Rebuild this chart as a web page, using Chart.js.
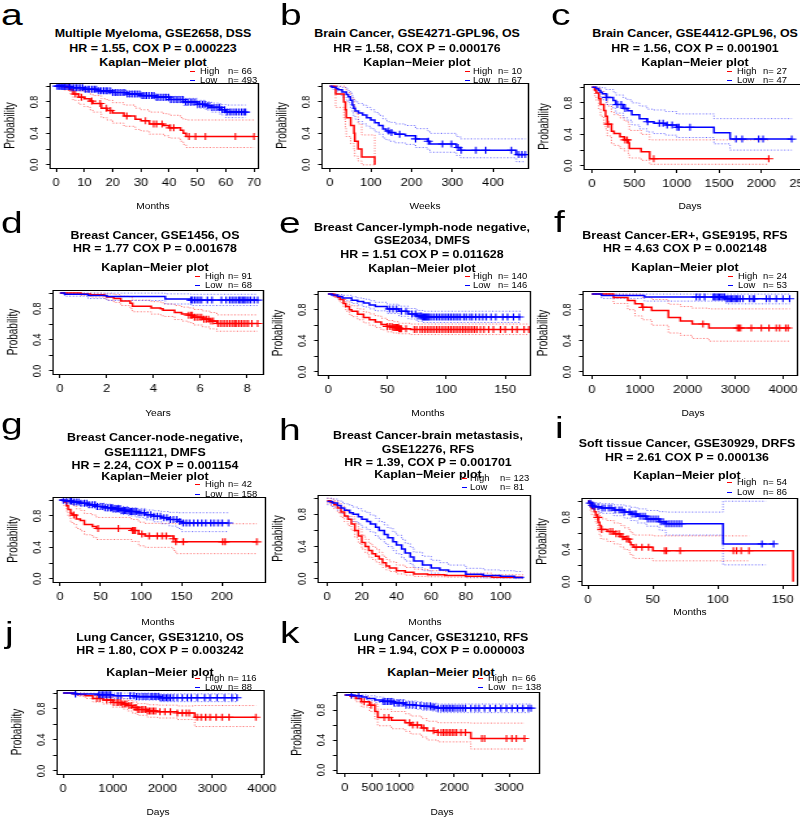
<!DOCTYPE html>
<html>
<head>
<meta charset="utf-8">
<script src="https://cdn.jsdelivr.net/npm/chart.js@4.4.1/dist/chart.umd.min.js"></script>
<style>
  html, body { margin: 0; padding: 0; background: #fff; }
  body { width: 800px; height: 819px; position: relative; overflow: hidden;
         font-family: "Liberation Sans", Arial, Helvetica, sans-serif; color: #000; }
  .c  { position: absolute; white-space: nowrap; line-height: 1; z-index: 2; }
  .l  { position: absolute; white-space: nowrap; line-height: 1; z-index: 2; transform-origin: 0 50%; }
  .ttl { font-weight: bold; font-size: 10.8px; transform: translate(-50%, -50%) scaleX(1.15); }
  .lg  { font-size: 8.6px; transform: translateY(-50%) scaleX(1.1); }
  .ax  { font-size: 8.5px; transform: translate(-50%, -50%) scaleX(1.2); }
  .let { position: absolute; font-size: 30px; line-height: 1; z-index: 2; transform-origin: 0 0; transform: scaleX(1.3); }
  .dash { position: absolute; width: 5px; height: 1px; z-index: 2; }
  canvas { position: absolute; }
</style>
</head>
<body>
<script>
// ---------- shared axis data ----------
var Y_TICKS = [0, 0.2, 0.4, 0.6, 0.8, 1];
var Y_TICK_LABELS = ["0.0", "", "0.4", "", "0.8", ""];

var N_HIGH = [66, 10, 27, 91, 140, 24, 42, 123, 54, 116, 66];
var N_LOW  = [493, 67, 47, 68, 146, 53, 158, 81, 86, 88, 138];

var A_XTICKS = [0, 10, 20, 30, 40, 50, 60, 70];
var B_XTICKS = [0, 100, 200, 300, 400];
var C_XTICKS = [0, 500, 1000, 1500, 2000, 2500];
var D_XTICKS = [0, 2, 4, 6, 8];
var E_XTICKS = [0, 50, 100, 150];
var F_XTICKS = [0, 1000, 2000, 3000, 4000];
var G_XTICKS = [0, 50, 100, 150, 200];
var H_XTICKS = [0, 20, 40, 60, 80, 100];
var I_XTICKS = [0, 50, 100, 150];
var J_XTICKS = [0, 1000, 2000, 3000, 4000];
var K_XTICKS = [0, 500, 1000, 1500, 2000, 2500, 3000];
var K_XTICK_LABELS = ["0", "500", "1000", "", "2000", "", "3000"];

// ---------- survival curves: [time, survival, lower CI, upper CI] ----------
var aHigh = [[0,1,1,1],[3,0.985,0.95,1],[5,0.955,0.9,0.99],[6,0.9,0.82,0.96],[8,0.86,0.77,0.94],[10,0.84,0.74,0.93],
  [12,0.81,0.7,0.9],[13,0.78,0.67,0.88],[16,0.72,0.6,0.84],[18,0.69,0.57,0.82],[20,0.66,0.53,0.79],[24,0.62,0.49,0.76],
  [28,0.58,0.45,0.72],[30,0.56,0.43,0.7],[33,0.52,0.39,0.67],[38,0.5,0.37,0.65],[40,0.47,0.34,0.63],[44,0.44,0.3,0.6],
  [45,0.4,0.26,0.58],[46,0.36,0.22,0.57],[70,0.36,0.22,0.57]];
var aHighCens = [4.6,6.8,9,12.6,15.6,17.8,19.2,25,31.6,34.5,35.5,37.5,40.4,41.6,47,49.3,52.8,63.4,70];
var aLow = [[0,1,1,1],[2,0.995,0.985,1],[5,0.98,0.965,0.995],[10,0.96,0.94,0.98],[15,0.94,0.915,0.965],[20,0.92,0.89,0.945],
  [25,0.9,0.87,0.93],[30,0.88,0.845,0.91],[35,0.86,0.82,0.895],[40,0.83,0.79,0.87],[45,0.8,0.755,0.845],[50,0.77,0.72,0.82],
  [53,0.75,0.695,0.8],[55,0.73,0.67,0.785],[58,0.7,0.635,0.765],[60,0.67,0.6,0.76],[67,0.67,0.6,0.76]];
var aLowCens = [0.4,0.9,1.3,1.8,2.2,2.7,3.1,3.6,4.2,4.8,5.5,6.3,7.1,7.8,8.6,9.4,10.3,11.1,11.8,12.7,13.5,14.2,15.1,15.9,
  16.8,17.6,18.3,19.2,20.1,21,21.7,22.6,23.5,24.3,25.2,26.1,27,27.8,28.6,29.5,30.4,31.2,32,32.9,33.8,34.6,35.5,36.3,37.2,
  38.1,38.9,39.8,40.6,41.5,42.4,43.2,44.1,44.9,45.8,46.6,47.5,48.3,49.2,50.1,50.9,51.8,52.6,53.5,54.3,55.2,56.1,57,57.8,
  58.7,59.6,60.4,61.3,62.1,63,63.8,64.7,65.6,66.4,67];

var bHigh = [[0,1,1,1],[14,0.9,0.73,1],[34,0.8,0.58,1],[38,0.7,0.46,0.98],[40,0.6,0.36,0.92],[51,0.5,0.27,0.85],
  [59,0.4,0.18,0.75],[61,0.3,0.11,0.66],[69,0.2,0.05,0.52],[78,0.1,0,0.38],[110,0,0,0]];
var bHighCens = [];
var bLow = [[0,1,1,1],[5,0.985,0.96,1],[15,0.97,0.93,1],[20,0.955,0.9,0.995],[30,0.925,0.86,0.985],[40,0.895,0.82,0.965],
  [45,0.865,0.79,0.945],[50,0.82,0.73,0.91],[55,0.76,0.66,0.86],[58,0.72,0.62,0.83],[62,0.685,0.58,0.8],[70,0.66,0.55,0.78],
  [80,0.635,0.52,0.76],[90,0.6,0.49,0.73],[100,0.57,0.46,0.7],[110,0.535,0.42,0.665],[120,0.5,0.39,0.63],[130,0.455,0.34,0.585],
  [138,0.43,0.32,0.56],[145,0.41,0.3,0.54],[160,0.39,0.28,0.52],[185,0.37,0.26,0.5],[210,0.33,0.22,0.46],[240,0.3,0.19,0.43],
  [245,0.265,0.16,0.4],[310,0.22,0.12,0.36],[320,0.185,0.09,0.33],[457,0.13,0.04,0.33],[480,0.13,0.04,0.33]];
var bLowCens = [144,151,171,210,241,276,298,314,322,358,382,445,463,471,479];

var cHigh = [[0,1,1,1],[30,0.963,0.89,1],[50,0.926,0.83,1],[80,0.852,0.72,0.98],[100,0.778,0.63,0.95],[140,0.704,0.55,0.9],
  [160,0.63,0.47,0.84],[180,0.53,0.38,0.76],[230,0.44,0.28,0.68],[260,0.41,0.26,0.65],[330,0.37,0.22,0.61],[380,0.33,0.19,0.57],
  [430,0.29,0.15,0.53],[440,0.22,0.1,0.45],[580,0.18,0.07,0.4],[680,0.09,0.02,0.33],[2090,0.09,0.02,0.33]];
var cHighCens = [190,390,415,728,2087];
var cLow = [[0,1,1,1],[50,0.979,0.94,1],[80,0.957,0.9,1],[100,0.936,0.87,1],[120,0.915,0.84,0.99],[170,0.87,0.78,0.97],
  [250,0.83,0.73,0.94],[280,0.78,0.67,0.9],[370,0.73,0.61,0.86],[420,0.7,0.58,0.84],[470,0.65,0.52,0.8],[560,0.6,0.47,0.76],
  [650,0.56,0.43,0.72],[730,0.54,0.41,0.71],[870,0.52,0.39,0.69],[1000,0.49,0.36,0.66],[1440,0.42,0.28,0.6],
  [1630,0.34,0.2,0.6],[2360,0.34,0.2,0.6]];
var cLowCens = [171,298,345,390,656,795,839,887,946,1006,1026,1157,1700,1773,1968,2020,2358];

var dHigh = [[0,1,1,1],[0.9,0.99,0.97,1],[1.3,0.98,0.95,1],[1.9,0.965,0.93,0.995],[2,0.95,0.91,0.99],[2.3,0.93,0.88,0.98],
  [2.6,0.9,0.84,0.96],[3,0.87,0.8,0.94],[3.1,0.83,0.76,0.91],[3.9,0.81,0.73,0.89],[4.3,0.8,0.72,0.88],[4.4,0.78,0.7,0.86],
  [4.9,0.75,0.66,0.84],[5.2,0.73,0.64,0.82],[5.5,0.715,0.62,0.81],[5.7,0.69,0.59,0.79],[6.1,0.665,0.565,0.77],
  [6.4,0.64,0.54,0.75],[6.7,0.61,0.51,0.72],[8.45,0.61,0.51,0.72]];
var dHighCens = [5.5,5.6,5.65,5.75,5.85,5.95,6.05,6.15,6.25,6.35,6.45,6.55,6.75,6.85,6.95,7.05,7.15,7.25,7.35,7.45,7.5,
  7.55,7.65,7.75,7.85,7.95,8.05,8.2,8.45];
var dLow = [[0,1,1,1],[0.2,0.985,0.96,1],[1.2,0.97,0.93,1],[2,0.955,0.905,1],[4.5,0.925,0.86,0.99],[5.6,0.91,0.84,0.985],
  [8.45,0.91,0.84,0.985]];
var dLowCens = [5.6,5.65,5.75,5.85,5.95,6.05,6.3,6.5,6.9,7.1,7.25,7.35,7.45,7.55,7.65,7.72,7.8,7.88,7.95,8.05,8.15,8.3,8.45];

var eHigh = [[0,1,1,1],[5,0.98,0.96,1],[8,0.96,0.93,0.99],[10,0.93,0.89,0.97],[13,0.88,0.83,0.93],[15,0.84,0.78,0.9],
  [18,0.8,0.74,0.86],[20,0.78,0.71,0.85],[25,0.74,0.67,0.81],[30,0.7,0.63,0.77],[35,0.67,0.6,0.745],[40,0.64,0.57,0.72],
  [45,0.61,0.54,0.69],[50,0.585,0.515,0.66],[55,0.57,0.5,0.645],[60,0.555,0.49,0.625],[70,0.545,0.48,0.615],[170,0.545,0.48,0.615]];
var eHighCens = [50,52,54,55,56,57,57.5,58,58.5,59,59.5,60,61,62,66,73,75,78,80,82,84,86,88,90,92,94,96,98,100,102,104,
  106,108,110,112,114,116,118,120,122,124,126,129,132,136,140,146,150,156,160,166,170];
var eLow = [[0,1,1,1],[3,0.99,0.975,1],[8,0.97,0.945,0.995],[12,0.95,0.915,0.985],[20,0.92,0.88,0.965],[25,0.905,0.86,0.95],
  [30,0.885,0.835,0.935],[35,0.86,0.81,0.915],[40,0.84,0.785,0.895],[50,0.81,0.75,0.87],[60,0.78,0.715,0.845],
  [68,0.745,0.68,0.815],[75,0.72,0.65,0.79],[80,0.705,0.635,0.78],[163,0.705,0.635,0.78]];
var eLowCens = [52,55,58,62,66,71,74,76,78,79,80,81,82,83,84,85,86,88,90,92,94,96,98,100,102,104,106,108,110,112,115,
  117,120,122,125,128,131,134,138,142,148,152,157,162];

var fHigh = [[0,1,1,1],[450,0.958,0.88,1],[750,0.917,0.8,1],[900,0.875,0.72,1],[1050,0.83,0.67,0.96],[1250,0.79,0.6,0.93],
  [1600,0.7,0.5,0.87],[1850,0.655,0.47,0.84],[2100,0.615,0.43,0.82],[2450,0.565,0.395,0.81],[4140,0.565,0.395,0.81]];
var fHighCens = [1068,2324,3043,3078,3113,3336,3545,3706,3859,3929,4055,4104];
var fLow = [[0,1,1,1],[200,0.981,0.945,1],[1100,0.962,0.91,1],[2810,0.94,0.875,1],[4140,0.94,0.875,1]];
var fLowCens = [2184,2254,2359,2540,2568,2600,2638,2670,2708,2740,2777,2820,2847,2880,2917,2950,2987,3020,3057,3100,
  3161,3301,3371,3400,3650,3720,3859,3999,4138];

var gHigh = [[0,1,1,1],[5,0.976,0.93,1],[8,0.93,0.86,1],[10,0.88,0.79,0.98],[13,0.835,0.73,0.95],[15,0.81,0.7,0.93],
  [20,0.76,0.64,0.89],[25,0.74,0.61,0.87],[30,0.69,0.56,0.83],[40,0.665,0.53,0.81],[45,0.64,0.5,0.78],[88,0.615,0.475,0.755],
  [97,0.57,0.42,0.72],[105,0.545,0.4,0.705],[140,0.51,0.36,0.7],[143,0.47,0.32,0.7],[243,0.47,0.32,0.7]];
var gHighCens = [17,47,72,89.5,91.5,93,101,110,120,126,131,140,143,152,201,204,243];
var gLow = [[0,1,1,1],[5,0.99,0.975,1],[15,0.975,0.95,1],[25,0.96,0.93,0.99],[35,0.94,0.905,0.975],[45,0.92,0.88,0.96],
  [55,0.905,0.86,0.95],[65,0.89,0.845,0.935],[75,0.87,0.82,0.92],[85,0.855,0.8,0.905],[95,0.84,0.78,0.895],
  [105,0.815,0.75,0.875],[115,0.795,0.725,0.865],[125,0.775,0.7,0.855],[135,0.755,0.67,0.845],[145,0.73,0.64,0.84],
  [150,0.71,0.6,0.84],[208,0.71,0.6,0.84]];
var gLowCens = [4,8,12,14,17,20,23,26,30,33,36,40,43,46,50,53,56,59,62,64,66,68,70,72,74,76,78,80,82,84,86,88,90,92,94,
  97,100,104,108,112,116,120,124,128,132,136,140,144,148,152,156,160,165,170,175,180,186,190,195,200,208];

var hHigh = [[0,0.97,0.94,1],[2,0.95,0.91,0.99],[4,0.92,0.87,0.97],[6,0.88,0.82,0.94],[8,0.83,0.76,0.9],[10,0.78,0.71,0.86],
  [12,0.74,0.66,0.82],[14,0.68,0.6,0.77],[16,0.6,0.51,0.69],[18,0.53,0.44,0.62],[20,0.45,0.37,0.54],[22,0.4,0.32,0.49],
  [24,0.35,0.27,0.44],[26,0.31,0.24,0.4],[28,0.28,0.21,0.37],[30,0.245,0.18,0.33],[32,0.2,0.14,0.28],[34,0.16,0.11,0.24],
  [36,0.135,0.09,0.21],[40,0.1,0.06,0.17],[45,0.08,0.045,0.14],[50,0.06,0.03,0.12],[58,0.05,0.025,0.1],[68,0.04,0.02,0.09],
  [80,0.03,0.012,0.07],[95,0.02,0.008,0.05],[113,0.02,0.008,0.05]];
var hHighCens = [];
var hLow = [[0,0.96,0.92,1],[3,0.94,0.89,0.99],[6,0.91,0.85,0.97],[8,0.88,0.81,0.95],[10,0.85,0.77,0.93],[13,0.82,0.74,0.91],
  [15,0.8,0.71,0.89],[18,0.77,0.68,0.87],[20,0.74,0.64,0.84],[23,0.71,0.61,0.82],[25,0.68,0.58,0.79],[28,0.64,0.53,0.75],
  [30,0.6,0.49,0.71],[33,0.55,0.44,0.67],[35,0.51,0.4,0.63],[38,0.46,0.35,0.58],[40,0.42,0.31,0.54],[43,0.37,0.26,0.49],
  [45,0.32,0.22,0.44],[48,0.27,0.18,0.39],[50,0.22,0.14,0.33],[55,0.17,0.1,0.28],[60,0.135,0.07,0.23],[65,0.11,0.055,0.2],
  [70,0.09,0.04,0.17],[80,0.055,0.02,0.13],[90,0.04,0.012,0.11],[100,0.03,0.008,0.1],[108,0.015,0.002,0.09],[113,0.01,0,0.09]];
var hLowCens = [];

var iHigh = [[0,1,1,1],[1,0.98,0.94,1],[2,0.945,0.88,1],[3,0.91,0.83,0.98],[5,0.87,0.78,0.95],[6,0.83,0.73,0.92],
  [7,0.8,0.7,0.9],[8,0.74,0.63,0.85],[9,0.7,0.58,0.82],[10,0.65,0.53,0.78],[15,0.625,0.5,0.76],[20,0.595,0.47,0.73],
  [25,0.56,0.43,0.7],[28,0.53,0.4,0.67],[32,0.49,0.36,0.63],[33,0.46,0.33,0.61],[35,0.43,0.29,0.58],[50,0.385,0.26,0.57],
  [124,0.385,0.26,0.57],[158,0,null,null]];
var iHighCens = [7.7,10.7,17,19,21.7,24,26.8,29.8,31,37,41.6,46.7,59,60.5,71,112,114.5,118,124];
var iLow = [[0,1,1,1],[1,0.988,0.96,1],[2,0.976,0.94,1],[3,0.95,0.9,0.99],[5,0.93,0.87,0.98],[10,0.915,0.85,0.97],
  [20,0.89,0.82,0.955],[28,0.865,0.79,0.94],[33,0.84,0.76,0.925],[38,0.815,0.73,0.905],[45,0.78,0.69,0.885],
  [55,0.745,0.64,0.87],[60,0.72,0.58,0.865],[104,0.47,0.21,1],[137,0.47,0.21,1],[143,0.47,null,null]];
var iLowCens = [2,3.5,5,8,11,13,16,18,21,24,26,28,32,34,36,37,40,42,44,46,48,50,52,54,56,58,60,62,64,66,68,70,72,134,143];

var jHigh = [[0,1,1,1],[200,0.991,0.975,1],[300,0.982,0.96,1],[450,0.965,0.93,0.995],[600,0.93,0.885,0.975],
  [800,0.91,0.86,0.96],[1000,0.88,0.82,0.94],[1200,0.86,0.795,0.925],[1300,0.84,0.77,0.905],[1400,0.815,0.74,0.885],
  [1500,0.79,0.715,0.865],[1700,0.77,0.69,0.85],[1900,0.76,0.68,0.845],[2300,0.745,0.66,0.835],[2650,0.69,0.57,0.84],
  [3880,0.69,0.57,0.84]];
var jHighCens = [680,740,880,960,1020,1080,1120,1160,1200,1240,1280,1330,1380,1440,1470,1500,1540,1580,1620,1660,1700,
  1740,1780,1820,1860,1950,2050,2160,2300,2400,2480,2540,2700,2780,2870,2960,3080,3200,3340,3880];
var jLow = [[0,1,1,1],[250,0.99,0.97,1],[700,0.978,0.95,1],[1000,0.966,0.93,1],[1450,0.955,0.91,1],[1950,0.94,0.89,0.99],
  [3500,0.94,0.89,0.99]];
var jLowCens = [250,720,760,800,840,880,920,960,1100,1160,1350,1420,1480,1540,1600,1650,1700,1760,1800,1840,1880,1920,
  1960,2000,2040,2080,2120,2160,2220,2300,2400,2500,2580,2700,2850,2960,3100,3250,3400,3500];

var kHigh = [[0,1,1,1],[100,0.985,0.955,1],[200,0.955,0.91,1],[300,0.91,0.84,0.98],[450,0.865,0.78,0.95],[550,0.78,0.68,0.88],
  [600,0.7,0.59,0.81],[850,0.665,0.55,0.78],[1100,0.63,0.515,0.75],[1200,0.6,0.48,0.72],[1400,0.56,0.44,0.685],
  [1500,0.525,0.4,0.65],[1700,0.5,0.375,0.63],[2300,0.42,0.28,0.625],[3280,0.42,0.28,0.625]];
var kHighCens = [350,480,720,800,1180,1240,1320,1440,1620,1700,1760,1800,1840,1880,1920,1960,2000,2040,2120,2200,2500,
  2550,2950,3050,3130,3280];
var kLow = [[0,1,1,1],[150,0.99,0.975,1],[300,0.975,0.95,1],[400,0.955,0.925,0.99],[550,0.935,0.9,0.975],[700,0.915,0.875,0.955],
  [900,0.895,0.85,0.94],[1100,0.87,0.82,0.92],[1300,0.86,0.81,0.91],[1400,0.85,0.795,0.9],[1600,0.84,0.785,0.89],
  [1700,0.825,0.765,0.88],[3400,0.825,0.765,0.88]];
var kLowCens = [120,250,700,740,780,820,860,900,960,1000,1060,1120,1180,1240,1300,1380,1450,1500,1560,1600,1640,1700,
  1760,1800,1840,1880,1920,1960,2000,2050,2100,2150,2200,2300,2380,2450,2550,2650,2750,2850,2950,3050,3150,3250,3350,3400];

// ---------- panel layout (page px) ----------
var SX = 1.3;                         // the source figure is stretched horizontally
var FONT = '"Liberation Sans", Arial, Helvetica, sans-serif';
var RED = "#ff0000", BLUE = "#0000ff";
var RED_CI = "rgba(255,0,0,0.6)", BLUE_CI = "rgba(0,0,255,0.6)";

var PANELS = [
  { letter: "a", lpos: [1, 0], box: [50, 83, 257, 168], x: [-2.1, 71.4], ticks: A_XTICKS, hi: aHigh, hiC: aHighCens, lo: aLow, loC: aLowCens,
    title: ["Multiple Myeloma, GSE2658, DSS", "HR = 1.55, COX P = 0.000223", "Kaplan\u2212Meier plot"], tx: 153, ty: [33, 47.5, 62],
    lg: [190, 200, 228, 71, 80], xlab: "Months", xl: [153, 206] },
  { letter: "b", lpos: [280, 0], box: [322, 83, 528, 168], x: [-19.6, 486], ticks: B_XTICKS, hi: bHigh, hiC: bHighCens, lo: bLow, loC: bLowCens,
    title: ["Brain Cancer, GSE4271-GPL96, OS", "HR = 1.58, COX P = 0.000176", "Kaplan\u2212Meier plot"], tx: 417, ty: [33, 47.5, 62],
    lg: [465, 473, 498, 71, 80], xlab: "Weeks", xl: [425, 206] },
  { letter: "c", lpos: [551, 0], box: [584, 84, 814, 169], x: [-94, 2621], ticks: C_XTICKS, hi: cHigh, hiC: cHighCens, lo: cLow, loC: cLowCens,
    title: ["Brain Cancer, GSE4412-GPL96, OS", "HR = 1.56, COX P = 0.001901", "Kaplan\u2212Meier plot"], tx: 695, ty: [33, 47.5, 62],
    lg: [727, 737, 763, 71, 80], xlab: "Days", xl: [690, 206] },
  { letter: "d", lpos: [1, 208], box: [53, 290, 263, 374], x: [-0.3, 8.68], ticks: D_XTICKS, hi: dHigh, hiC: dHighCens, lo: dLow, loC: dLowCens,
    title: ["Breast Cancer, GSE1456, OS", "HR = 1.77 COX P = 0.001678", "Kaplan\u2212Meier plot"], tx: 155, ty: [235, 248, 267],
    lg: [195, 205, 228, 276, 285], xlab: "Years", xl: [158, 413] },
  { letter: "e", lpos: [279, 208], box: [318, 291, 530, 375], x: [-8.5, 171], ticks: E_XTICKS, hi: eHigh, hiC: eHighCens, lo: eLow, loC: eLowCens,
    title: ["Breast Cancer-lymph-node negative,", "GSE2034, DMFS", "HR = 1.51 COX P = 0.011628", "Kaplan\u2212Meier plot"], tx: 422, ty: [227, 240, 254, 268],
    lg: [465, 473, 498, 276, 285], xlab: "Months", xl: [428, 413] },
  { letter: "f", lpos: [554, 207], box: [583, 291, 797, 375], x: [-188, 4293], ticks: F_XTICKS, hi: fHigh, hiC: fHighCens, lo: fLow, loC: fLowCens,
    title: ["Breast Cancer-ER+, GSE9195, RFS", "HR = 4.63 COX P = 0.002148", "Kaplan\u2212Meier plot"], tx: 685, ty: [235, 248, 267],
    lg: [728, 738, 763, 276, 285], xlab: "Days", xl: [693, 413] },
  { letter: "g", lpos: [1, 409], box: [53, 497, 265, 582], x: [-8.6, 253], ticks: G_XTICKS, hi: gHigh, hiC: gHighCens, lo: gLow, loC: gLowCens,
    title: ["Breast Cancer-node-negative,", "GSE11121, DMFS", "HR = 2.24, COX P = 0.001154", "Kaplan\u2212Meier plot"], tx: 155, ty: [437, 452, 465, 476],
    lg: [195, 205, 228, 484, 494], xlab: "Months", xl: [158, 622] },
  { letter: "h", lpos: [279, 415], box: [318, 495, 530, 582], x: [-5.2, 117], ticks: H_XTICKS, hi: hHigh, hiC: hHighCens, lo: hLow, loC: hLowCens,
    title: ["Breast Cancer-brain metastasis,", "GSE12276, RFS", "HR = 1.39, COX P = 0.001701", "Kaplan\u2212Meier plot"], tx: 428, ty: [435, 449, 462, 474],
    lg: [462, 470, 500, 478, 487], xlab: "Months", xl: [425, 622] },
  { letter: "i", lpos: [555, 413], box: [582, 498, 797, 585], x: [-4.6, 161], ticks: I_XTICKS, hi: iHigh, hiC: iHighCens, lo: iLow, loC: iLowCens,
    title: ["Soft tissue Cancer, GSE30929, DRFS", "HR = 2.61 COX P = 0.000136", "Kaplan\u2212Meier plot"], tx: 687, ty: [443, 457, 475],
    lg: [727, 737, 763, 482, 492], xlab: "Months", xl: [690, 612] },
  { letter: "j", lpos: [5, 618], box: [57, 690, 265, 774], x: [-120, 4040], ticks: J_XTICKS, hi: jHigh, hiC: jHighCens, lo: jLow, loC: jLowCens,
    title: ["Lung Cancer, GSE31210, OS", "HR = 1.80, COX P = 0.003242", "Kaplan\u2212Meier plot"], tx: 160, ty: [637, 650, 672],
    lg: [195, 205, 228, 678, 687], xlab: "Days", xl: [158, 812] },
  { letter: "k", lpos: [280, 618], box: [337, 692, 540, 773], x: [-145, 3545], ticks: K_XTICKS, tickLabels: K_XTICK_LABELS,
    hi: kHigh, hiC: kHighCens, lo: kLow, loC: kLowCens,
    title: ["Lung Cancer, GSE31210, RFS", "HR = 1.94, COX P = 0.000003", "Kaplan\u2212Meier plot"], tx: 441, ty: [637, 650, 672],
    lg: [478, 488, 512, 678, 687], xlab: "Days", xl: [442, 812] }
];

// ---------- helpers ----------
function survAt(rows, t) {
  var s = rows[0][1];
  for (var i = 0; i < rows.length; i++) if (rows[i][0] <= t) s = rows[i][1];
  return s;
}

function stepSet(rows, col, color, dotted, order) {
  return {
    data: rows.map(function (r) { return { x: r[0], y: r[col] == null ? null : r[col] }; }),
    borderColor: color, borderWidth: dotted ? 1 : 1.5, borderDash: dotted ? [1, 1.6] : [],
    stepped: true, pointRadius: 0, fill: false, spanGaps: false, order: order
  };
}

function censorSet(rows, times, color, order) {
  return {
    data: times.map(function (t) { return { x: t, y: survAt(rows, t) }; }),
    showLine: false, pointStyle: "cross", pointRadius: 3.5, pointBorderWidth: 1.1,
    borderColor: color, backgroundColor: color, order: order
  };
}

// R-style box round the plot region
var boxPlugin = {
  id: "rbox",
  afterDatasetsDraw: function (chart) {
    var a = chart.chartArea, ctx = chart.ctx;
    ctx.save();
    ctx.strokeStyle = "#000";
    ctx.lineWidth = 1;
    ctx.strokeRect(Math.round(a.left) + 0.5, Math.round(a.top) + 0.5,
      Math.round(a.right - a.left), Math.round(a.bottom - a.top));
    ctx.restore();
  }
};

function addText(cls, text, x, y) {
  var d = document.createElement("div");
  d.className = cls;
  d.textContent = text;
  d.style.left = x + "px";
  d.style.top = y + "px";
  document.body.appendChild(d);
  return d;
}

function drawPanel(p, k) {
  var l = p.box[0], t = p.box[1], r = p.box[2], b = p.box[3];
  var cw = Math.round(((r - l) + 50 + 18) / SX);
  var ch = (b - t) + 10 + 46;
  var cv = document.createElement("canvas");
  cv.width = cw;
  cv.height = ch;
  cv.style.left = (l - 50) + "px";
  cv.style.top = (t - 10) + "px";
  cv.style.width = (cw * SX) + "px";
  cv.style.height = ch + "px";
  document.body.appendChild(cv);

  var xLabels = p.tickLabels || p.ticks.map(String);

  new Chart(cv.getContext("2d"), {
    type: "line",
    data: {
      datasets: [
        stepSet(p.hi, 2, RED_CI, true, 6), stepSet(p.hi, 3, RED_CI, true, 6),
        stepSet(p.lo, 2, BLUE_CI, true, 5), stepSet(p.lo, 3, BLUE_CI, true, 5),
        stepSet(p.hi, 1, RED, false, 3), stepSet(p.lo, 1, BLUE, false, 2),
        censorSet(p.hi, p.hiC, RED, 1), censorSet(p.lo, p.loC, BLUE, 0)
      ]
    },
    options: {
      responsive: false, animation: false, events: [],
      layout: { padding: { left: 2 / SX, top: 10, right: 18 / SX, bottom: 0 } },
      plugins: { legend: { display: false }, tooltip: { enabled: false }, title: { display: false } },
      scales: {
        x: {
          type: "linear", min: p.x[0], max: p.x[1],
          afterBuildTicks: function (s) { s.ticks = p.ticks.map(function (v) { return { value: v }; }); },
          afterFit: function (s) { s.height = 46; },
          grid: { drawOnChartArea: false, drawTicks: true, tickLength: 4, tickColor: "#000" },
          border: { display: true, color: "#000" },
          ticks: {
            color: "#000", font: { family: FONT, size: 10 }, padding: 5,
            autoSkip: false, minRotation: 0, maxRotation: 0,
            callback: function (v, i) { return xLabels[i]; }
          }
        },
        y: {
          type: "linear", min: -0.04, max: 1.04,
          afterBuildTicks: function (s) { s.ticks = Y_TICKS.map(function (v) { return { value: v }; }); },
          afterFit: function (s) { s.width = 48 / SX; },
          grid: { drawOnChartArea: false, drawTicks: true, tickLength: 3, tickColor: "#000" },
          border: { display: true, color: "#000" },
          title: { display: true, text: "Probability", color: "#000", font: { family: FONT, size: 10 }, padding: { top: 0.9, bottom: 0 } },
          ticks: {
            color: "#000", font: { family: FONT, size: 9 }, padding: 2.2,
            minRotation: 90, maxRotation: 90, crossAlign: "center", autoSkip: false,
            callback: function (v, i) { return Y_TICK_LABELS[i]; }
          }
        }
      }
    },
    plugins: [boxPlugin]
  });

  // panel letter
  addText("let", p.letter, p.lpos[0], p.lpos[1]);

  // titles
  p.title.forEach(function (line, i) { addText("c ttl", line, p.tx, p.ty[i]); });

  // legend
  var g = p.lg;
  [[RED, "High", N_HIGH[k], g[3]], [BLUE, "Low", N_LOW[k], g[4]]].forEach(function (it) {
    var dsh = document.createElement("div");
    dsh.className = "dash";
    dsh.style.left = g[0] + "px";
    dsh.style.top = (it[3] - 0.5) + "px";
    dsh.style.background = it[0];
    document.body.appendChild(dsh);
    addText("l lg", it[1], g[1], it[3]);
    addText("l lg", "n= " + it[2], g[2], it[3]);
  });

  // x axis label
  addText("c ax", p.xlab, p.xl[0], p.xl[1]);
}

PANELS.forEach(drawPanel);
</script>
</body>
</html>
